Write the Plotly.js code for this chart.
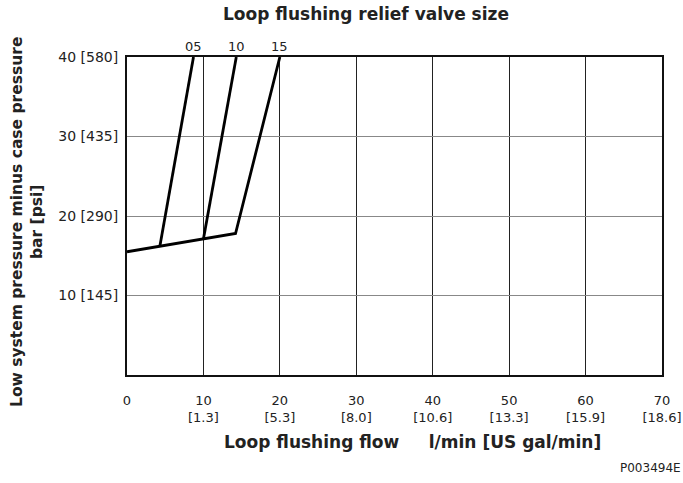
<!DOCTYPE html>
<html>
<head>
<meta charset="utf-8">
<script src="https://cdn.plot.ly/plotly-3.0.1.min.js"></script>
<style>html,body{margin:0;padding:0;background:#fff;}#chart{width:683px;height:483px;}</style>
</head>
<body>
<div id="chart"></div>
<script>
// Data
const sizeLabels = ['05', '10', '15'];
const flow05 = [4.3, 8.7];
const pressure05 = [16.2, 40];
const flow10 = [10, 14.3];
const pressure10 = [17.1, 40];
const flow15 = [0, 14.2, 20];
const pressure15 = [15.5, 17.8, 40];

const xTickVals = [0, 10, 20, 30, 40, 50, 60, 70];
const xTickText = ['0', '10<br>[1.3]', '20<br>[5.3]', '30<br>[8.0]', '40<br>[10.6]', '50<br>[13.3]', '60<br>[15.9]', '70<br>[18.6]'];
const yTickVals = [10, 20, 30, 40];
const yTickText = ['10 [145]', '20 [290]', '30 [435]', '40 [580]'];

const FONT = '"DejaVu Sans", "Open Sans", sans-serif';
const TXT = '#222';
const lineStyle = {color: '#000', width: 2.8};

const series = [[flow05, pressure05], [flow10, pressure10], [flow15, pressure15]];
const traces = series.map((s, i) => ({
  type: 'scatter', mode: 'lines', x: s[0], y: s[1],
  line: lineStyle, name: sizeLabels[i], showlegend: false, hoverinfo: 'skip'
}));

const annotations = series.map((s, i) => ({
  x: s[0][s[0].length - 1], y: s[1][s[1].length - 1], xref: 'x', yref: 'y',
  text: sizeLabels[i], showarrow: false, yanchor: 'bottom', yshift: 1,
  font: {family: FONT, size: 13, color: TXT}
}));
annotations.push({
  x: 683, y: 468, xref: 'paper', yref: 'paper', xanchor: 'right', yanchor: 'middle',
  text: 'P003494E', showarrow: false, font: {family: FONT, size: 12, color: TXT}
});
annotations.push({
  x: 412, y: 442, xref: 'paper', yref: 'paper', xanchor: 'center', yanchor: 'middle',
  text: '<b>Loop flushing flow\u00a0\u00a0\u00a0\u00a0\u00a0l/min [US gal/min]</b>', showarrow: false,
  font: {family: FONT, size: 17, color: TXT}
});
annotations.push({
  x: 27, y: 222, xref: 'paper', yref: 'paper', xanchor: 'center', yanchor: 'middle', textangle: -90,
  text: '<b>Low system pressure minus case pressure<br>bar [psi]</b>', showarrow: false,
  font: {family: FONT, size: 15.5, color: TXT}
});

// convert pixel-placed paper annotations into paper fractions
const M = {l: 127, r: 21, t: 57, b: 108};
const PW = 683 - M.l - M.r, PH = 483 - M.t - M.b;
annotations.forEach(a => {
  if (a.xref === 'paper') { a.x = (a.x - M.l) / PW; a.y = (483 - M.b - a.y) / PH; }
});

const layout = {
  width: 683, height: 483,
  margin: M,
  paper_bgcolor: '#fff', plot_bgcolor: '#fff',
  font: {family: FONT, size: 14, color: TXT},
  title: {text: '<b>Loop flushing relief valve size</b>', x: 366 / 683, xanchor: 'center', y: 1 - 14 / 483, yanchor: 'middle',
          font: {family: FONT, size: 17, color: TXT}},
  xaxis: {
    range: [0, 70], tickvals: xTickVals, ticktext: xTickText,
    showgrid: true, gridcolor: '#222', gridwidth: 1,
    showline: true, linecolor: '#111', linewidth: 2, mirror: true,
    zeroline: false, ticks: '', ticklabelstandoff: 12, ticklabeloverflow: 'allow',
    tickfont: {family: FONT, size: 13, color: TXT},
    fixedrange: true
  },
  yaxis: {
    range: [0, 40], tickvals: yTickVals, ticktext: yTickText,
    showgrid: true, gridcolor: '#888', gridwidth: 1,
    showline: true, linecolor: '#111', linewidth: 2, mirror: true,
    zeroline: false, ticks: '', ticklabelstandoff: 4,
    tickfont: {family: FONT, size: 14, color: TXT},
    fixedrange: true
  },
  annotations: annotations,
  showlegend: false
};

Plotly.newPlot('chart', traces, layout, {displayModeBar: false, staticPlot: true});
</script>
</body>
</html>
